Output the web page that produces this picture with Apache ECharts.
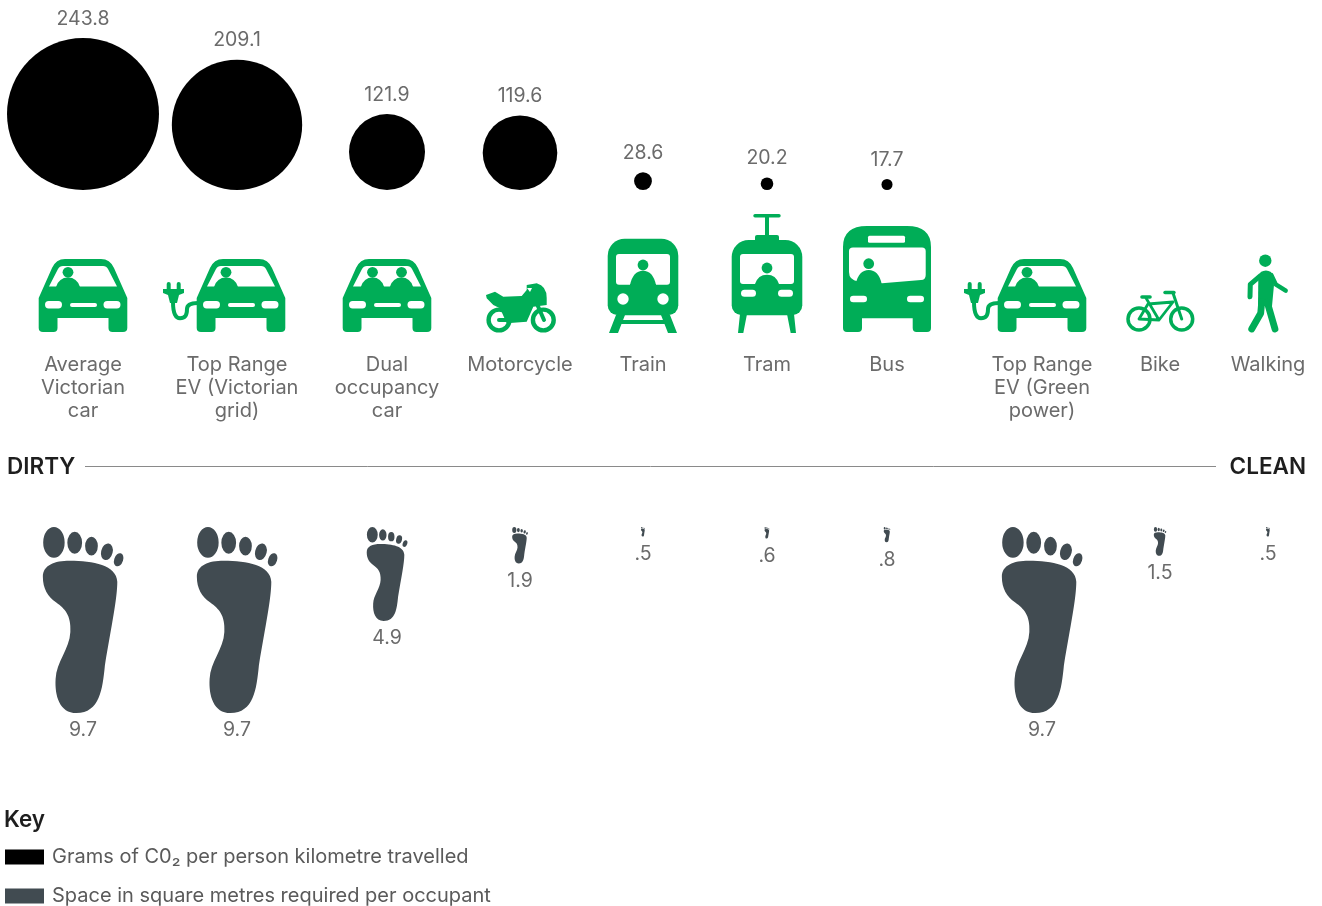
<!DOCTYPE html>
<html>
<head>
<meta charset="utf-8">
<title>Transport emissions and space</title>
<script src="https://cdn.jsdelivr.net/npm/echarts@6/dist/echarts.min.js"></script>
<style>
  html, body { margin: 0; padding: 0; background: #fff; }
  #main { width: 1322px; height: 906px; }
</style>
</head>
<body>
<div id="main"></div>
<script>
// data
const categories = [
  "Average\nVictorian\ncar", "Top Range\nEV (Victorian\ngrid)", "Dual\noccupancy\ncar", "Motorcycle",
  "Train", "Tram", "Bus", "Top Range\nEV (Green\npower)", "Bike", "Walking"
];
const co2Grams = [243.8, 209.1, 121.9, 119.6, 28.6, 20.2, 17.7, null, null, null];
const spaceSqm = [9.7, 9.7, 4.9, 1.9, 0.5, 0.6, 0.8, 9.7, 1.5, 0.5];
const co2Name = "Grams of C0₂ per person kilometre travelled";
const spaceName = "Space in square metres required per occupant";

// layout, the columns are not evenly spaced
const columnX = [83, 237, 387, 520, 643, 767, 887, 1042, 1160, 1268];
const iconKinds = ["car", "evCar", "dualCar", "motorcycle", "train", "tram", "bus", "evCar", "bike", "walker"];
const iconShift = [0, 4, 0, 0, 0, 0, 0, 0, 0, 0];
const iconBaseY = 332;

const GREEN = "#00AD57";
const SLATE = "#414B51";
const TEXT = "#6B6B6B";
const FONT = "Inter";

// --- icon pieces, drawn around x = 0 with y = 0 on the ground line
const ANCHOR = "M-100 -130L-100 -130M100 10L100 10";
const fillPath = (d, fill) => ({
  type: "path",
  shape: { pathData: ANCHOR + d, x: -100, y: -130, width: 200, height: 140, layout: "cover" },
  style: { fill: fill || GREEN }
});
const dot = (cx, cy, r, fill) => ({ type: "circle", shape: { cx, cy, r }, style: { fill: fill || GREEN } });
const ring = (cx, cy, r, w) => ({ type: "circle", shape: { cx, cy, r }, style: { fill: "#fff", stroke: GREEN, lineWidth: w } });
const box = (x, y, width, height, r, fill) => ({ type: "rect", shape: { x, y, width, height, r }, style: { fill: fill || GREEN } });
const stroke = (points, w) => ({
  type: "polyline",
  shape: { points },
  style: { fill: null, stroke: GREEN, lineWidth: w, lineCap: "round", lineJoin: "round" }
});
const cord = d => ({
  type: "path",
  shape: { pathData: ANCHOR + d, x: -100, y: -130, width: 200, height: 140, layout: "cover" },
  style: { fill: null, stroke: GREEN, lineWidth: 4 }
});
const rider = (x, headY, topY, bottomY, half) => [
  dot(x, headY, 5.4),
  fillPath(`M${x - half} ${bottomY}Q${x - half + 3} ${topY} ${x} ${topY}Q${x + half - 3} ${topY} ${x + half} ${bottomY}Z`)
];

function carBody() {
  return [
    fillPath("M-44.3 -34L-31 -64Q-27 -73 -18 -73L18 -73Q27 -73 31 -64L44.3 -34L44.3 -4Q44.3 0 40 0L29.5 0Q25.5 0 25.5 -4L25.5 -14L-25.5 -14L-25.5 -4Q-25.5 0 -29.5 0L-40 0Q-44.3 0 -44.3 -4Z"),
    fillPath("M-34 -45.5L-25 -63Q-23.5 -66 -20 -66L20 -66Q23.5 -66 25 -63L34 -45.5Z", "#fff")
  ];
}
function carLights() {
  return [
    box(-38, -31, 17, 7.4, 3.7, "#fff"),
    box(-13, -29, 27, 4, 2, "#fff"),
    box(20.5, -31, 17, 7.4, 3.7, "#fff")
  ];
}
const plug = [
  box(-74.3, -50, 4, 9, 2),
  box(-64.3, -50, 4, 9, 2),
  fillPath("M-78 -43L-57 -43L-57 -39L-62 -37L-64 -29L-71 -29L-73 -37L-78 -39Z"),
  cord("M-68 -30C-68 -18 -65 -13.7 -61 -13.7C-55 -13.7 -54 -18 -54 -23C-54 -27 -50 -29 -43 -29")
];
const car = [...carBody(), ...rider(-15, -59.7, -54.5, -45, 12), ...carLights()];

const icons = {
  car,
  evCar: [...plug, ...car],
  dualCar: [...carBody(), ...rider(-14.5, -59.7, -54.5, -45, 11.7), ...rider(14.5, -59.7, -54.5, -45, 11.7), ...carLights()],
  motorcycle: [
    ring(-21, -12, 10.4, 4.4),
    ring(23.3, -12, 10.4, 4.4),
    stroke([[-21, -12], [-10, -12]], 4),
    stroke([[17, -28], [24, -12]], 4),
    fillPath("M-34 -37L-25 -40.3L-16.7 -35.3L1.7 -36L6.7 -42L6.7 -47L16.7 -48.7Q26.7 -46 26.7 -34L26.7 -27L13.3 -25.3L6.7 -10.3L-13.3 -8.7L-20 -23.7L-26.7 -27L-33.3 -33.7Z"),
    fillPath("M7 -44L12 -44L10 -40Z", "#fff")
  ],
  train: [
    fillPath("M-27 -17L-18 -17L-25 1L-34 1ZM27 -17L18 -17L25 1L34 1Z"),
    box(-23, -12, 46, 4, 0),
    box(-35.3, -93.3, 70.6, 76.6, [17, 17, 10, 10]),
    box(-27, -78, 54, 30.7, 3, "#fff"),
    ...rider(0, -67, -61.3, -47, 13),
    box(-13, -48, 26, 12, 0),
    dot(-20, -33, 5.7, "#fff"),
    dot(20, -33, 5.7, "#fff")
  ],
  tram: [
    box(-13.7, -118, 27.4, 3.4, 1.7),
    box(-2, -116, 4, 22, 0),
    box(-12, -97, 24, 8, 2),
    fillPath("M-27 -18L-20 -18L-23.7 1L-29 1ZM27 -18L20 -18L23.7 1L29 1Z"),
    box(-35.3, -92, 70.6, 75.3, [17, 17, 10, 10]),
    box(-27, -78, 54, 30, 3, "#fff"),
    ...rider(0, -64, -57.3, -48, 12),
    box(-26, -42.3, 15, 7, 3.5, "#fff"),
    box(11, -42.3, 15, 7, 3.5, "#fff")
  ],
  bus: [
    fillPath("M-44 -85Q-44 -106 -20 -106L20 -106Q44 -106 44 -85L44 -4Q44 0 40 0L29.5 0Q25.7 0 25.7 -4L25.7 -13.7L-25 -13.7L-25 -4Q-25 0 -29 0L-40 0Q-44 0 -44 -4Z"),
    box(-19, -96.3, 37, 7, 1.5, "#fff"),
    fillPath("M-38 -81Q-38 -84.5 -34 -84.5L35 -84.5Q38.7 -84.5 38.7 -81L38.7 -57Q38.7 -52 34 -52L-5 -48.7L-29 -50.5Q-38 -52 -38 -60Z", "#fff"),
    ...rider(-18.3, -68.3, -62, -48, 13),
    box(-37, -36.3, 17, 6.6, 3.3, "#fff"),
    box(20, -36.3, 17, 6.6, 3.3, "#fff")
  ],
  bike: [
    ring(-21, -13, 11, 3.5),
    ring(21.7, -13, 11, 3.5),
    stroke([[-18, -35], [-10, -35]], 3.6),
    stroke([[-14, -34], [-1, -12], [-21, -13], [-12, -28], [13, -30], [-1, -12]], 2.8),
    stroke([[13, -39], [21.7, -13]], 3),
    stroke([[5, -39.5], [14, -39.5]], 3.4)
  ],
  walker: [
    dot(-2.7, -71.3, 6.2),
    fillPath("M-9.7 -53.7L-7.3 -60Q-2 -63 3 -60L6 -47L4 -26L-10 -26Z"),
    stroke([[-7.5, -56.3], [-17.7, -47.7], [-18, -35.3]], 5),
    stroke([[3.3, -57], [7.7, -47.7], [17.7, -41.3]], 4.4),
    stroke([[-0.8, -30], [7, -3]], 6.8),
    stroke([[-6.3, -30], [-7.3, -18.7], [-16.3, -3]], 6.8)
  ]
};

// footprint, outline box is 240 x 556
const footPath =
  "M41 82A32 46 0 1 1 105 82A32 46 0 1 1 41 82Z" +
  "M113 83A22 33 0 1 1 157 83A22 33 0 1 1 113 83Z" +
  "M166 93A19 28 0 1 1 204 93A19 28 0 1 1 166 93Z" +
  "M214.6 105.6A17 24 15 1 1 247.4 114.4A17 24 15 1 1 214.6 105.6Z" +
  "M253.8 129.6A13 19 20 1 1 278.2 138.4A13 19 20 1 1 253.8 129.6Z" +
  "M40 185C40 150 75 137 120 137C190 137 260 150 262 200C262 250 245 330 225 450C218 520 210 592 140 592C90 592 75 540 78 490C80 440 120 400 122 350C125 300 105 280 80 262C55 245 40 220 40 185Z";
const footRatio = 240 / 556;

const shortNumber = v => String(v).replace(/^0/, "");

function renderCircle(params, api) {
  const x = api.coord([api.value(0), 0])[0];
  const base = api.coord([api.value(0), 0])[1];
  const top = api.coord([api.value(0), api.value(1)])[1];
  const r = (base - top) / 2;
  return {
    type: "group",
    children: [
      { type: "circle", shape: { cx: x, cy: base - r, r }, style: { fill: "#000" } },
      {
        type: "text",
        style: {
          x, y: top - 19, text: String(api.value(1)), fill: TEXT, font: `19.5px ${FONT}`,
          align: "center", verticalAlign: "middle"
        }
      }
    ]
  };
}

function renderFoot(params, api) {
  const x = api.coord([api.value(0), 0])[0];
  const top = api.coord([api.value(0), 0])[1];
  const bottom = api.coord([api.value(0), api.value(1)])[1];
  const h = bottom - top;
  const w = h * footRatio;
  return {
    type: "group",
    children: [
      {
        type: "path",
        shape: { pathData: footPath, x: x - w / 2, y: top, width: w, height: h, layout: "cover" },
        style: { fill: SLATE }
      },
      {
        type: "text",
        style: {
          x, y: bottom + 17.5, text: shortNumber(api.value(1)), fill: TEXT, font: `19.5px ${FONT}`,
          align: "center", verticalAlign: "middle"
        }
      }
    ]
  };
}

function renderIcon(params, api) {
  const i = api.value(1);
  return {
    type: "group",
    x: api.coord([api.value(0), 0])[0] + iconShift[i],
    y: iconBaseY,
    children: icons[iconKinds[i]]
  };
}

function renderName(params, api) {
  const i = api.value(1);
  return {
    type: "text",
    style: {
      x: api.coord([api.value(0), 0])[0],
      y: 353,
      text: categories[i],
      fill: TEXT,
      font: `20px ${FONT}`,
      lineHeight: 23,
      align: "center",
      verticalAlign: "top"
    }
  };
}

const chart = echarts.init(document.getElementById("main"));
const columns = columnX.map((x, i) => [x, i]);

chart.setOption({
  animation: false,
  backgroundColor: "#fff",
  textStyle: { fontFamily: FONT },
  grid: [
    { left: 0, width: 1322, top: 38, height: 152 },
    { left: 0, width: 1322, top: 527, height: 186 }
  ],
  xAxis: [
    { type: "value", gridIndex: 0, min: 0, max: 1322, show: false },
    { type: "value", gridIndex: 1, min: 0, max: 1322, show: false }
  ],
  yAxis: [
    { type: "value", gridIndex: 0, min: 0, max: 243.8, show: false },
    { type: "value", gridIndex: 1, min: 0, max: 9.7, inverse: true, show: false }
  ],
  legend: {
    orient: "vertical",
    left: 5,
    top: 847,
    height: 80,
    padding: 0,
    itemWidth: 39,
    itemHeight: 15,
    itemGap: 19,
    icon: "rect",
    selectedMode: false,
    data: [co2Name, spaceName],
    textStyle: { fontSize: 20, color: "#5A5A5A", fontFamily: FONT, padding: [0, 0, 0, 3] }
  },
  graphic: [
    { type: "line", shape: { x1: 85, y1: 466.5, x2: 1216, y2: 466.5 }, style: { stroke: "#8A8A8A", lineWidth: 1 } },
    { type: "text", x: 7, y: 467, style: { text: "DIRTY", fill: "#1E1E1E", font: `600 22.5px ${FONT}`, align: "left", verticalAlign: "middle" } },
    { type: "text", x: 1306, y: 467, style: { text: "CLEAN", fill: "#1E1E1E", font: `600 22.5px ${FONT}`, align: "right", verticalAlign: "middle" } },
    { type: "text", x: 4, y: 820, style: { text: "Key", fill: "#1E1E1E", font: `600 22.5px ${FONT}`, align: "left", verticalAlign: "middle" } }
  ],
  series: [
    {
      name: co2Name,
      type: "custom",
      xAxisIndex: 0,
      yAxisIndex: 0,
      clip: false,
      silent: true,
      itemStyle: { color: "#000" },
      renderItem: renderCircle,
      data: co2Grams.map((v, i) => [columnX[i], v]).filter(d => d[1] !== null)
    },
    {
      name: spaceName,
      type: "custom",
      xAxisIndex: 1,
      yAxisIndex: 1,
      clip: false,
      silent: true,
      itemStyle: { color: SLATE },
      renderItem: renderFoot,
      data: spaceSqm.map((v, i) => [columnX[i], v])
    },
    {
      type: "custom",
      xAxisIndex: 0,
      yAxisIndex: 0,
      clip: false,
      silent: true,
      renderItem: renderIcon,
      data: columns
    },
    {
      type: "custom",
      xAxisIndex: 0,
      yAxisIndex: 0,
      clip: false,
      silent: true,
      renderItem: renderName,
      data: columns
    }
  ]
});
</script>
</body>
</html>
